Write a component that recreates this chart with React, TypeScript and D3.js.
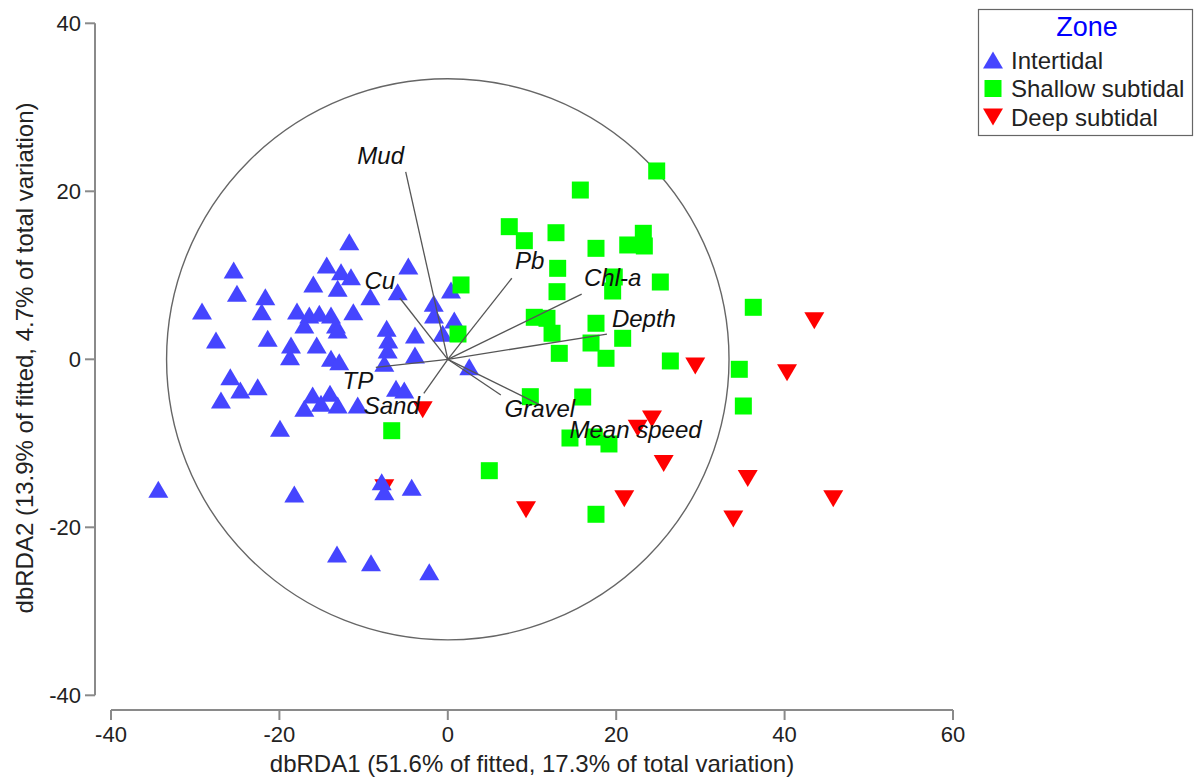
import React from 'react';
import * as d3 from 'd3';

// --- data (dbRDA1, dbRDA2 scores) ---
const intertidalX = [-11.7, -25.43, -14.38, -12.68, -11.5, -4.69, -15.97, -13.08, -25.04, -21.67, -9.2, -5.95, -22.1, -29.19, -17.91, -16.45, -15.26, -13.87, -17.04, -13.28, -11.22, -13.08, -1.67, 0.38, -1.64, 0.77, -0.61, -7.26, -7.07, -3.9, -7.14, -7.54, -3.9, 2.55, -27.53, -21.39, -18.62, -18.74, -15.57, -13.87, -12.89, -25.83, -24.64, -22.58, -26.94, -16.05, -13.99, -17.04, -13.08, -10.7, -6.15, -5.17, -19.93, -15.06, -34.38, -18.23, -7.85, -7.54, -4.29, -13.16, -9.12, -2.2];
const intertidalY = [14.0, 10.63, 11.23, 10.43, 9.83, 11.11, 8.96, 8.45, 7.86, 7.45, 7.45, 8.05, 5.67, 5.75, 5.75, 5.27, 5.48, 5.27, 4.08, 4.08, 5.67, 3.49, 6.67, 8.25, 5.27, 4.68, 3.1, 3.69, 2.3, 2.89, 1.11, -0.48, 0.51, -0.88, 2.3, 2.5, 1.7, 0.31, 1.7, 0.12, -0.29, -2.07, -3.65, -3.26, -4.85, -4.25, -4.05, -5.83, -5.44, -5.44, -3.45, -3.65, -8.21, -5.24, -15.48, -16.04, -14.57, -15.76, -15.24, -23.18, -24.21, -25.29];

const shallowX = [24.81, 15.74, 7.3, 9.09, 12.85, 17.6, 21.37, 23.22, 23.34, 13.05, 12.97, 19.77, 19.58, 25.24, 1.57, 1.21, 10.27, 11.78, 12.38, 17.6, 17.01, 20.77, 13.24, 18.79, 26.43, 36.28, 34.62, 35.1, 9.8, 16.02, 14.51, 17.4, 19.14, 17.6, -6.66, 4.93];
const shallowY = [22.42, 20.15, 15.79, 14.12, 15.07, 13.21, 13.61, 15.0, 13.49, 10.83, 8.05, 9.8, 8.13, 9.2, 8.85, 3.01, 5.0, 4.88, 3.1, 4.29, 1.94, 2.5, 0.71, 0.12, -0.2, 6.19, -1.19, -5.56, -4.45, -4.49, -9.37, -9.25, -10.08, -18.45, -8.5, -13.26];

const deepX = [43.53, 29.39, 40.29, 24.25, 22.55, 25.64, 35.62, 20.96, 45.78, 33.91, -2.98, 9.29, -7.54];
const deepY = [4.6, -0.8, -1.6, -7.1, -8.2, -12.4, -14.2, -16.6, -16.6, -19.0, -6.0, -17.9, -15.3];

const vectorNames = ['Mud', 'Cu', 'TP', 'Sand', 'Pb', 'Chl-a', 'Depth', 'Gravel', 'Mean speed'];
const vectorX = [-5.0, -5.7, -8.55, -2.85, 7.6, 15.9, 18.9, 6.3, 10.9];
const vectorY = [22.3, 7.3, -0.95, -4.05, 9.65, 7.75, 3.0, -4.25, -5.4];

const circleRadius = 33.4;

const xTicks = [-40, -20, 0, 20, 40, 60];
const yTicks = [-40, -20, 0, 20, 40];

const zoneNames = ['Intertidal', 'Shallow subtidal', 'Deep subtidal'];

const xTitle = 'dbRDA1 (51.6% of fitted, 17.3% of total variation)';
const yTitle = 'dbRDA2 (13.9% of fitted, 4.7% of total variation)';

// --- layout ---
const W = 1194;
const H = 778;
const FONT = '"Liberation Sans", Arial, sans-serif';
const BLUE = '#4545ff';
const GREEN = '#00ff00';
const RED = '#ff0000';

const x = d3.scaleLinear().domain([-40, 60]).range([111, 953]);
const y = d3.scaleLinear().domain([-40, 40]).range([695.3, 23.3]);

// bbox-centred triangles (PRIMER style)
const triUp = {
    draw(ctx, size) {
        const w = Math.sqrt(size) * 1.1, h = w * 0.85;
        ctx.moveTo(0, -h / 2);
        ctx.lineTo(w / 2, h / 2);
        ctx.lineTo(-w / 2, h / 2);
        ctx.closePath();
    }
};
const triDown = {
    draw(ctx, size) {
        const w = Math.sqrt(size) * 1.1, h = w * 0.85;
        ctx.moveTo(0, h / 2);
        ctx.lineTo(w / 2, -h / 2);
        ctx.lineTo(-w / 2, -h / 2);
        ctx.closePath();
    }
};
const upPath = d3.symbol(triUp, 330)();
const downPath = d3.symbol(triDown, 330)();
const squarePath = d3.symbol(d3.symbolSquare, 289)();

// label nudges (px) from vector tips
const labelNudge = [[-25, -16], [-20, -17], [-18, 13], [-32, 12], [18, -18], [31, -17], [37, -16], [39, 14], [96, 25]];

const zip = (xs, ys) => xs.map((v, i) => [v, ys[i]]);

const App = () => {
    const ox = x(0), oy = y(0);
    const rx = x(circleRadius) - ox, ry = oy - y(circleRadius);
    const yAxisX = 95;
    const xAxisY = 710;

    return (
        <svg width={W} height={H} style={{ position: 'absolute', left: 0, top: 0, background: '#fff' }} fontFamily={FONT}>
            {/* axes */}
            <g stroke="#8a8a8a" strokeWidth={2} fill="none">
                <line x1={yAxisX} x2={yAxisX} y1={y(40)} y2={y(-40)} />
                {yTicks.map(t => <line key={t} x1={yAxisX - 10} x2={yAxisX} y1={y(t)} y2={y(t)} />)}
                <line x1={x(-40)} x2={x(60)} y1={xAxisY} y2={xAxisY} />
                {xTicks.map(t => <line key={t} x1={x(t)} x2={x(t)} y1={xAxisY} y2={xAxisY + 10} />)}
            </g>
            {yTicks.map(t => (
                <text key={t} x={yAxisX - 14} y={y(t)} dy="0.35em" textAnchor="end" fontSize={22} fill="#222">{t}</text>
            ))}
            {xTicks.map(t => (
                <text key={t} x={x(t)} y={xAxisY + 32} textAnchor="middle" fontSize={22} fill="#222">{t}</text>
            ))}
            <text x={(x(-40) + x(60)) / 2} y={772} textAnchor="middle" fontSize={24} fill="#222">{xTitle}</text>
            <text transform={`translate(33,${358}) rotate(-90)`} textAnchor="middle" fontSize={24} fill="#222">{yTitle}</text>

            {/* correlation circle */}
            <ellipse cx={ox} cy={oy} rx={rx} ry={ry} fill="none" stroke="#666" strokeWidth={1.4} />

            {/* samples */}
            {zip(deepX, deepY).map(([a, b], i) => (
                <path key={'d' + i} d={downPath} transform={`translate(${x(a)},${y(b)})`} fill={RED} />
            ))}
            {zip(intertidalX, intertidalY).map(([a, b], i) => (
                <path key={'i' + i} d={upPath} transform={`translate(${x(a)},${y(b)})`} fill={BLUE} />
            ))}
            {zip(shallowX, shallowY).map(([a, b], i) => (
                <path key={'s' + i} d={squarePath} transform={`translate(${x(a)},${y(b)})`} fill={GREEN} />
            ))}

            {/* vectors */}
            {vectorNames.map((name, i) => (
                <line key={name} x1={ox} y1={oy} x2={x(vectorX[i])} y2={y(vectorY[i])} stroke="#555" strokeWidth={1.3} />
            ))}
            {vectorNames.map((name, i) => (
                <text key={name} x={x(vectorX[i]) + labelNudge[i][0]} y={y(vectorY[i]) + labelNudge[i][1]} dy="0.35em"
                    textAnchor="middle" fontSize={24} fontStyle="italic" fill="#111">{name}</text>
            ))}

            {/* legend */}
            <rect x={978.5} y={9.5} width={214} height={126} fill="#fff" stroke="#666" strokeWidth={1.2} />
            <text x={1087} y={36} textAnchor="middle" fontSize={27} fill="#0000ff">Zone</text>
            {zoneNames.map((name, i) => {
                const cy = 60 + i * 28.5;
                const d = i === 0 ? upPath : i === 1 ? squarePath : downPath;
                const fill = i === 0 ? BLUE : i === 1 ? GREEN : RED;
                return (
                    <g key={name}>
                        <path d={d} transform={`translate(993,${cy})`} fill={fill} />
                        <text x={1011} y={cy} dy="0.36em" fontSize={24} fill="#222">{name}</text>
                    </g>
                );
            })}
        </svg>
    );
};

export default App;
